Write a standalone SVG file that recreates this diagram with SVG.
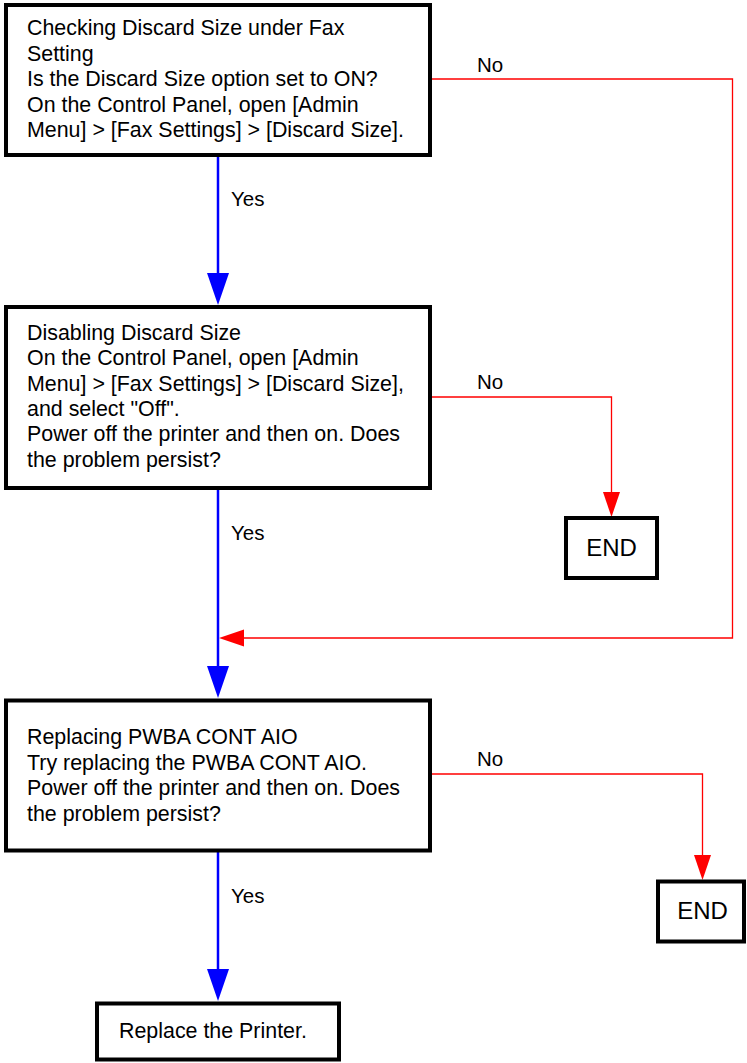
<svg xmlns="http://www.w3.org/2000/svg" width="747" height="1063" viewBox="0 0 747 1063">
  <style>
    .box { fill: #ffffff; stroke: #000000; stroke-width: 4; }
    .txt { font-family: "Liberation Sans", Arial, sans-serif; font-size: 21.4px; fill: #000000; }
    .lbl { font-family: "Liberation Sans", Arial, sans-serif; font-size: 20.5px; fill: #000000; }
    .end { font-family: "Liberation Sans", Arial, sans-serif; font-size: 24px; fill: #000000; }
    .yes { fill: none; stroke: #0000ff; stroke-width: 2.5; marker-end: url(#arrowBlue); }
    .no { fill: none; stroke: #ff0000; stroke-width: 1.3; marker-end: url(#arrowRed); }
  </style>
  <defs>
    <!-- arrowheads start at the path end and extend forward to the tip -->
    <marker id="arrowBlue" markerUnits="userSpaceOnUse" markerWidth="32" markerHeight="22" refX="0" refY="11" orient="auto" viewBox="0 0 32 22" overflow="visible">
      <path d="M0,0 L32,11 L0,22 Z" fill="#0000ff"/>
    </marker>
    <marker id="arrowRed" markerUnits="userSpaceOnUse" markerWidth="25" markerHeight="17" refX="0" refY="8.5" orient="auto" viewBox="0 0 25 17" overflow="visible">
      <path d="M0,0 L25,8.5 L0,17 Z" fill="#ff0000"/>
    </marker>
  </defs>

  <!-- connectors -->
  <g id="connectors">
    <path class="yes" d="M218,157 V273"/>
    <path class="yes" d="M218,490 V666"/>
    <path class="yes" d="M218,852 V969"/>

    <path class="no" d="M432,79 H732.5 V638 H244"/>
    <path class="no" d="M432,397 H611.5 V492"/>
    <path class="no" d="M432,774 H702.5 V855"/>

    <text class="lbl" x="231" y="206">Yes</text>
    <text class="lbl" x="231" y="540">Yes</text>
    <text class="lbl" x="231" y="903">Yes</text>
    <text class="lbl" x="477" y="71.5">No</text>
    <text class="lbl" x="477" y="389">No</text>
    <text class="lbl" x="477" y="766">No</text>
  </g>

  <!-- step 1 -->
  <g id="check-discard-size">
    <rect class="box" x="6" y="5" width="424" height="150"/>
    <text class="txt" x="27" y="35">Checking Discard Size under Fax</text>
    <text class="txt" x="27" y="60.5">Setting</text>
    <text class="txt" x="27" y="86">Is the Discard Size option set to ON?</text>
    <text class="txt" x="27" y="111.5">On the Control Panel, open [Admin</text>
    <text class="txt" x="27" y="137">Menu] &gt; [Fax Settings] &gt; [Discard Size].</text>
  </g>

  <!-- step 2 -->
  <g id="disable-discard-size">
    <rect class="box" x="6" y="307" width="424" height="181"/>
    <text class="txt" x="27" y="340">Disabling Discard Size</text>
    <text class="txt" x="27" y="365.3">On the Control Panel, open [Admin</text>
    <text class="txt" x="27" y="390.7">Menu] &gt; [Fax Settings] &gt; [Discard Size],</text>
    <text class="txt" x="27" y="416">and select "Off".</text>
    <text class="txt" x="27" y="441.3">Power off the printer and then on. Does</text>
    <text class="txt" x="27" y="466.7">the problem persist?</text>
  </g>

  <!-- end after step 2 -->
  <g id="end-1">
    <rect class="box" x="566" y="518" width="91" height="60"/>
    <text class="end" x="611.5" y="556" text-anchor="middle">END</text>
  </g>

  <!-- step 3 -->
  <g id="replace-pwba">
    <rect class="box" x="6" y="700.5" width="424" height="150"/>
    <text class="txt" x="27" y="744">Replacing PWBA CONT AIO</text>
    <text class="txt" x="27" y="769.5">Try replacing the PWBA CONT AIO.</text>
    <text class="txt" x="27" y="795">Power off the printer and then on. Does</text>
    <text class="txt" x="27" y="820.5">the problem persist?</text>
  </g>

  <!-- end after step 3 -->
  <g id="end-2">
    <rect class="box" x="658" y="881.5" width="86" height="60"/>
    <text class="end" x="702.5" y="918.5" text-anchor="middle">END</text>
  </g>

  <!-- final step -->
  <g id="replace-printer">
    <rect class="box" x="97" y="1003.5" width="242" height="56"/>
    <text class="txt" x="119" y="1038">Replace the Printer.</text>
  </g>
</svg>
